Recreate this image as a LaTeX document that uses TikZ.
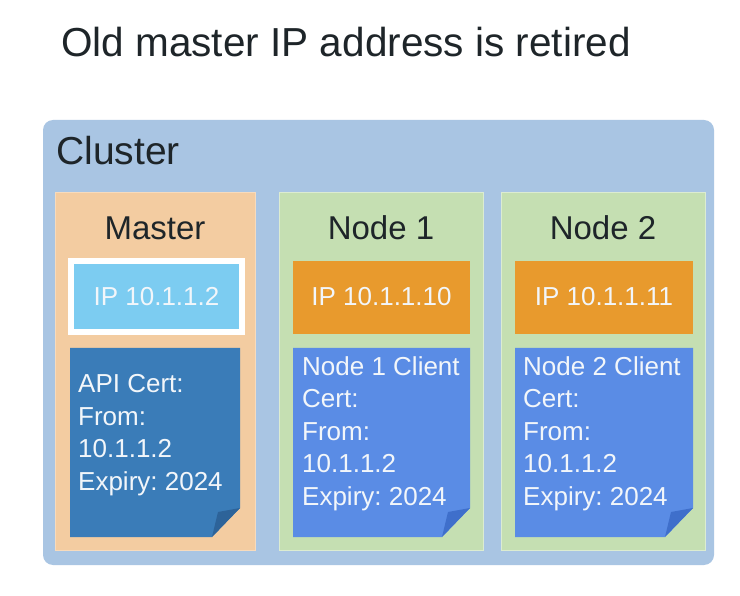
\documentclass[tikz,border=0pt]{standalone}
\usepackage{fontspec}
\setmainfont{Liberation Sans}
\frenchspacing
\definecolor{clusterc}{HTML}{A9C5E3}
\definecolor{masterc}{HTML}{F3CCA1}
\definecolor{nodec}{HTML}{C5DFB2}
\definecolor{ipblue}{HTML}{7CCCF1}
\definecolor{iporange}{HTML}{E89A2D}
\definecolor{mcert}{HTML}{3A7CB8}
\definecolor{mfold}{HTML}{2D6399}
\definecolor{ncert}{HTML}{5A8CE5}
\definecolor{nfold}{HTML}{3F6FCB}
\definecolor{darktext}{HTML}{1E2529}
\definecolor{lighttext}{HTML}{F2F6FA}
\tikzset{
  titletext/.style={anchor=base west, inner sep=0, text=darktext, font=\fontsize{40.5}{48}\selectfont},
  clustertext/.style={anchor=base west, inner sep=0, text=darktext, font=\fontsize{39}{46}\selectfont},
  boxlabel/.style={anchor=base, inner sep=0, text=darktext, font=\fontsize{33}{40}\selectfont},
  iptext/.style={anchor=base, inner sep=0, text=lighttext, font=\fontsize{26}{31}\selectfont},
  certtext/.style={anchor=north west, inner sep=0, align=left, text=lighttext, font=\fontsize{26}{32.5}\selectfont\frenchspacing},
}
\newcommand{\certshape}[6]{%
  \fill[#5] (#1,#2) -- (#3,#2) -- (#3,#4-29) -- (#3-28,#4) -- (#1,#4) -- cycle;
  \fill[#6] (#3,#4-29) -- (#3-22,#4-25) -- (#3-28,#4) -- cycle;
}
\begin{document}
\begin{tikzpicture}[x=1pt,y=-1pt]
\useasboundingbox[fill=white] (0,0) rectangle (740,596);
% title
\node[titletext] (title) at (61,57) {Old master IP address is retired};
% cluster
\fill[clusterc, rounded corners=10pt] (43,120) rectangle (714,565);
\node[clustertext] (cluster) at (56,165) {Cluster};
% columns
\filldraw[fill=masterc, draw=masterc!70!white, line width=0.8pt] (55,192) rectangle (255,550);
\filldraw[fill=nodec, draw=nodec!60!white, line width=0.8pt] (279,192) rectangle (483,550);
\filldraw[fill=nodec, draw=nodec!60!white, line width=0.8pt] (501,192) rectangle (705,550);
\node[boxlabel] (masterlbl) at (155,240) {Master};
\node[boxlabel] (node1lbl) at (381,240) {Node 1};
\node[boxlabel] (node2lbl) at (603,240) {Node 2};
% IP boxes
\filldraw[fill=ipblue, draw=white, line width=6pt] (71,261) rectangle (242,332);
\fill[iporange] (293,261) rectangle (470,334);
\fill[iporange] (515,261) rectangle (693,334);
\node[iptext] (masterip) at (156.5,306) {IP 10.1.1.2};
\node[iptext] (node1ip) at (381.5,306) {IP 10.1.1.10};
\node[iptext] (node2ip) at (604,306) {IP 10.1.1.11};
% certs
\certshape{70}{348}{240}{537}{mcert}{mfold}
\certshape{293}{348}{470}{537}{ncert}{nfold}
\certshape{515}{348}{693}{537}{ncert}{nfold}
\node[certtext] (mastercert) at (78,374.4) {API Cert:\\From:\\10.1.1.2\\Expiry: 2024};
\node[certtext] (node1cert) at (302,356.2) {Node 1 Client\\Cert:\\From:\\10.1.1.2\\Expiry: 2024};
\node[certtext] (node2cert) at (523,356.2) {Node 2 Client\\Cert:\\From:\\10.1.1.2\\Expiry: 2024};
\end{tikzpicture}
\end{document}
